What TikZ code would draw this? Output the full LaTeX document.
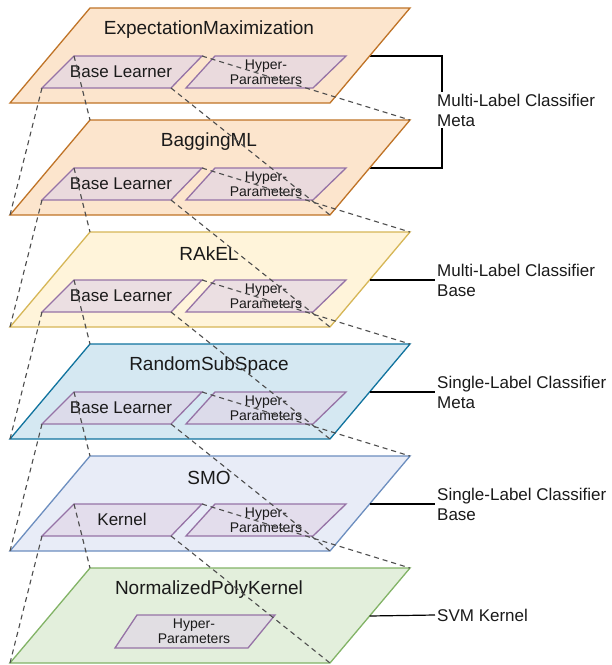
\documentclass[tikz,border=0pt]{standalone}
\usepackage{fontspec}
\setmainfont{Liberation Sans}
\usetikzlibrary{calc}
\definecolor{orfill}{HTML}{FCE5CD}
\definecolor{ordraw}{HTML}{BF7326}
\definecolor{yefill}{HTML}{FFF4DA}
\definecolor{yedraw}{HTML}{D6B656}
\definecolor{blfill}{HTML}{D5E8F2}
\definecolor{bldraw}{HTML}{10739E}
\definecolor{lvfill}{HTML}{E8ECF7}
\definecolor{lvdraw}{HTML}{6C8EBF}
\definecolor{grfill}{HTML}{E3EFDC}
\definecolor{grdraw}{HTML}{82B366}
\definecolor{pufill}{HTML}{E1D5E7}
\definecolor{pudraw}{HTML}{9673A6}
\definecolor{dashcol}{HTML}{4D4D4D}
\definecolor{txt}{HTML}{1A1A1A}

% layer corners: #1 name, #2 top y
\newcommand\mklayer[2]{%
  \coordinate (#1tl) at (90,#2);
  \coordinate (#1tr) at (410,#2);
  \coordinate (#1br) at (330,#2+95);
  \coordinate (#1bl) at (10,#2+95);
  \coordinate (#1e)  at (410-80*48/95,#2+48);
}
% base learner / kernel box corners
\newcommand\mkbase[2]{%
  \coordinate (#1btl) at (74,#2+48);
  \coordinate (#1btr) at (202,#2+48);
  \coordinate (#1bbr) at (171,#2+80);
  \coordinate (#1bbl) at (42,#2+80);
}
% hyper-parameter box corners
\newcommand\mkhyper[2]{%
  \coordinate (#1htl) at (215,#2+48);
  \coordinate (#1htr) at (346,#2+48);
  \coordinate (#1hbr) at (313,#2+80);
  \coordinate (#1hbl) at (186,#2+80);
}

\tikzset{
  layerbox/.style={line width=1.3pt, line join=miter},
  subbox/.style={draw=pudraw, fill=pufill, fill opacity=0.65, line width=1.3pt},
  ttl/.style={text=txt, font=\fontsize{19}{22}\selectfont, inner sep=0pt},
  basetxt/.style={text=txt, font=\fontsize{17}{20}\selectfont, inner sep=0pt},
  hypertxt/.style={text=txt, font=\fontsize{14}{15}\selectfont, align=center, inner sep=0pt},
  labtxt/.style={text=txt, font=\fontsize{17}{20}\selectfont, align=left, anchor=west, inner sep=2pt},
  labline/.style={draw=black, line width=1.2pt},
  dashln/.style={draw=dashcol, line width=1.1pt, dash pattern=on 5pt off 4pt},
}

\begin{document}
\begin{tikzpicture}[x=1pt,y=-1pt]
\useasboundingbox (0,0) rectangle (612,665);

\mklayer{A}{8}   \mkbase{A}{8}   \mkhyper{A}{8}
\mklayer{B}{120} \mkbase{B}{120} \mkhyper{B}{120}
\mklayer{C}{232} \mkbase{C}{232} \mkhyper{C}{232}
\mklayer{D}{344} \mkbase{D}{344} \mkhyper{D}{344}
\mklayer{E}{456} \mkbase{E}{456} \mkhyper{E}{456}
\mklayer{F}{568}
\coordinate (Fhtl) at (137,615);
\coordinate (Fhtr) at (275,615);
\coordinate (Fhbr) at (248,648);
\coordinate (Fhbl) at (115,648);

% bracket coordinates
\coordinate (brTop) at (442,56);
\coordinate (brBot) at (442,168);

% right-hand labels' lines (drawn first, under labels)
\draw[labline] (Ae) -- (brTop) -- (brBot) -- (Be);

% layers
\draw[layerbox, fill=orfill, draw=ordraw] (Atl)--(Atr)--(Abr)--(Abl)--cycle;
\draw[layerbox, fill=orfill, draw=ordraw] (Btl)--(Btr)--(Bbr)--(Bbl)--cycle;
\draw[layerbox, fill=yefill, draw=yedraw] (Ctl)--(Ctr)--(Cbr)--(Cbl)--cycle;
\draw[layerbox, fill=blfill, draw=bldraw] (Dtl)--(Dtr)--(Dbr)--(Dbl)--cycle;
\draw[layerbox, fill=lvfill, draw=lvdraw] (Etl)--(Etr)--(Ebr)--(Ebl)--cycle;
\draw[layerbox, fill=grfill, draw=grdraw] (Ftl)--(Ftr)--(Fbr)--(Fbl)--cycle;

% sub boxes
\foreach \n in {A,B,C,D,E}{
  \draw[subbox] (\n btl)--(\n btr)--(\n bbr)--(\n bbl)--cycle;
  \draw[subbox] (\n htl)--(\n htr)--(\n hbr)--(\n hbl)--cycle;
}
\draw[subbox] (Fhtl)--(Fhtr)--(Fhbr)--(Fhbl)--cycle;

% titles
\node[ttl] (At) at (209,30)  {ExpectationMaximization};
\node[ttl] (Bt) at (209,142) {BaggingML};
\node[ttl] (Ct) at (209,254) {RAkEL};
\node[ttl] (Dt) at (209,366) {RandomSubSpace};
\node[ttl] (Et) at (209,478) {SMO};
\node[ttl] (Ft) at (209,590) {NormalizedPolyKernel};

% sub box texts
\node[basetxt] (Ab) at (121,72)  {Base Learner};
\node[basetxt] (Bb) at (121,184) {Base Learner};
\node[basetxt] (Cb) at (121,296) {Base Learner};
\node[basetxt] (Db) at (121,408) {Base Learner};
\node[basetxt] (Eb) at (122,519) {Kernel};
\node[hypertxt] (Ah) at (266,72)  {Hyper-\\Parameters};
\node[hypertxt] (Bh) at (266,184) {Hyper-\\Parameters};
\node[hypertxt] (Ch) at (266,296) {Hyper-\\Parameters};
\node[hypertxt] (Dh) at (266,408) {Hyper-\\Parameters};
\node[hypertxt] (Eh) at (266,520) {Hyper-\\Parameters};
\node[hypertxt] (Fh) at (194,631) {Hyper-\\Parameters};

% right labels
\node[labtxt, fill=white] (labA) at (435,110) {Multi-Label Classifier\\Meta};
\node[labtxt] (labC) at (435,280) {Multi-Label Classifier\\Base};
\node[labtxt] (labD) at (435,392) {Single-Label Classifier\\Meta};
\node[labtxt] (labE) at (435,504) {Single-Label Classifier\\Base};
\node[labtxt] (labF) at (435,615) {SVM Kernel};
\draw[labline] (Ce) -- (labC.west);
\draw[labline] (De) -- (labD.west);
\draw[labline] (Ee) -- (labE.west);
\draw[labline] (Fe) -- (labF.west);

% dashed projection lines
\foreach \a/\b in {A/B,B/C,C/D,D/E,E/F}{
  \draw[dashln] (\a btl) -- (\b tl);
  \draw[dashln] (\a btr) -- (\b tr);
  \draw[dashln] (\a bbr) -- (\b br);
  \draw[dashln] (\a bbl) -- (\b bl);
}
\end{tikzpicture}
\end{document}
